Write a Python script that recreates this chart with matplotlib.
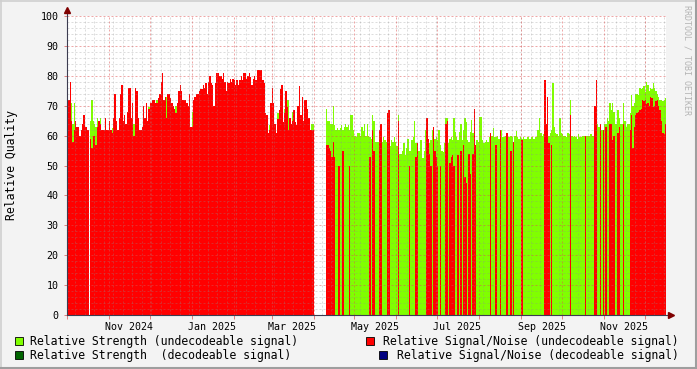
import numpy as np
import pandas as pd
import matplotlib
matplotlib.use("Agg")
import matplotlib.pyplot as plt
import matplotlib.dates as mdates
from matplotlib.lines import Line2D
from matplotlib.patches import Rectangle

# one value per day, starting at start_day; None = no data
start_day = "2024-10-01"
canvas_days = 441.8  # time span covered by the canvas

strength_undec = [
    # Oct 2024 .. Mar 2025
    62, 72, 78, 71, 64, 71, 65, 63, 63, 60,
    62, 64, 67, 63, 63, 62, None, 65, 72, 65,
    64, 63, 66, 65, 66, 62, 62, 62, 66, 62,
    62, 65, 62, 62.5, 66, 74, 65, 62, 66, 74,
    77, 65, 67, 64, 68, 76, 76, 66, 71, 64,
    76, 75, 66, 62, 62, 63, 70, 66, 71, 65,
    69.5, 71, 71, 72, 72, 71, 72, 72.5, 74, 78,
    81, 72, 73, 73, 74, 74, 72.5, 71, 70, 69,
    70, 71, 75, 77, 75, 72, 72, 72, 71, 70,
    74, 63, 68, 72, 73, 74, 74, 75, 75.5, 75.5,
    77, 76, 77.5, 74, 78, 80, 77.5, 77, 70, 77.5,
    81, 81, 80, 80, 79, 81, 78, 75, 78, 77.5,
    79, 78, 79, 78.5, 77, 78.5, 77, 78.5, 80, 78.5,
    81, 81, 79, 80, 81, 79.5, 77, 79, 80, 78.5,
    82, 82, 82, 82, 78.5, 77.5, 67.5, 67, 61, 63.5,
    71, 76, 71, 64, 61, 67.5, 68.5, 75.5, 77, 64.5,
    69, 75, 72, 72, 66, 64, 68, 68.5, 64.5, 63.5,
    70, 76.5, 67, 73, 65, 72, 72, 69, 66, 62,
    64, 64,
    # outage, early Apr 2025
    None, None, None, None, None, None, None, None, None,
    # Apr 2025 .. Dec 2025
    69, 65, 65, 64, 64, 70, 63.5, 62, 62.5, 62,
    62.5, 63.5, 62, 63, 64, 63, 63.5, 62, 67, 67,
    62, 60, 59.5, 61, 61, 60, 63, 61.5, 64, 60,
    64, 60, 59.5, 59, 67, 65, 58, 58, 58, 58.5,
    64, 58, 59.5, 58.5, 58, 67.5, 68.5, 56.5, 58.5, 58,
    59.5, 58, 56.5, 67, 54, 54, 55, 57.5, 53.5, 56,
    59, 55, 55, 58.5, 59.5, 65, 57.5, 57.5, 55, 58.5,
    58.5, 52.5, 55, 62, 62, 59, 57.5, 58.5, 62, 63,
    59, 59.5, 58.5, 62, 57, 55, 54.5, 57.5, 65.8, 65.8,
    57.5, 59, 59.5, 58.5, 65.8, 61.3, 59.5, 58.5, 61.3, 64,
    58.5, 62, 65.8, 64.7, 58.5, 58, 61.3, 65.2, 60.8, 65,
    55.8, 58.5, 58, 66.3, 66.3, 58.5, 57.5, 58, 58.5, 58,
    59.5, 61, 60, 62.5, 59.5, 59.5, 60, 59, 62, 62,
    59.5, 59.5, 60, 61, 59.5, 59.5, 60, 59.5, 58, 60,
    61.5, 59.5, 59, 59.5, 59, 59.5, 59, 59, 59.5, 59.5,
    59, 59.5, 59.5, 59, 59.5, 59.5, 62, 66, 61, 60,
    60.5, 60.5, 61, 64, 60, 61, 62, 77.5, 63, 61,
    60.5, 60, 66, 61, 60.5, 60, 60, 59.5, 61, 60.5,
    72, 60, 59.5, 60, 59.5, 59, 60.5, 59.5, 59.5, 60,
    60, 60, 60, 60, 60, 60.5, 60, 60, 70, 78.5,
    64, 63, 64, 62, 62, 64, 64, 66, 65, 71,
    68.5, 71, 68, 64, 64, 68.5, 66, 64, 64, 71,
    65, 63, 64, 64, 67.5, 73.5, 70, 71, 74, 74,
    73.5, 76, 75.5, 76, 76.5, 74.5, 78, 77, 75, 76,
    75.5, 77.5, 76, 75, 74, 73, 72, 72, 71.5, 72, 72.5,
]

snr_undec = [
    # Oct 2024 .. Mar 2025
    62, 72, 78, 65, 58, 62, 65, 63, 63, 60,
    62, 64, 67, 63, 63, 62, None, 59, 56, 60,
    60, 57, 63, 65, 64, 62, 62, 62, 66, 62,
    62, 65, 62, 61, 66, 74, 65, 62, 66, 74,
    77, 65, 67, 64, 68, 76, 76, 66, 71, 60,
    76, 75, 66, 62, 62, 63, 70, 66, 71, 65,
    69, 71, 71, 72, 72, 71, 71, 72.5, 74, 78,
    81, 72, 73, 66, 74, 74, 72.5, 71, 70, 69,
    67.5, 71, 75, 77, 75, 72, 72, 72, 71, 70,
    74, 63, 63, 72, 73, 74, 74, 75, 75.5, 75.5,
    77, 76, 77.5, 74, 78, 80, 77.5, 77, 70, 77.5,
    81, 81, 80, 80, 79, 81, 78, 75, 78, 77.5,
    79, 78, 79, 78.5, 77, 78.5, 77, 78.5, 80, 78.5,
    81, 81, 79, 80, 81, 79.5, 77, 79, 80, 78.5,
    82, 82, 82, 82, 78.5, 77.5, 67.5, 67, 61, 62,
    71, 76, 71, 64, 61, 65.5, 68.5, 75.5, 77, 64.5,
    67.5, 75, 69.5, 62, 66, 64, 65, 68.5, 64.5, 63.5,
    70, 76.5, 67, 73, 65, 72, 72, 69, 66, 62,
    62, 62,
    # outage, early Apr 2025
    None, None, None, None, None, None, None, None, None,
    # Apr 2025 .. Dec 2025
    57, 57, 56, 55, 53, 58, 53, None, None, 50,
    None, None, 55, None, None, None, None, 50, None, None,
    None, None, None, None, None, None, None, None, None, None,
    None, None, 53, None, 62, 55, None, None, None, 62,
    64, None, None, None, None, 67.5, 68.5, None, None, None,
    None, None, None, 65, None, None, None, None, None, None,
    None, 50, None, None, None, None, 53, 57.5, None, None,
    None, None, None, None, 66, 59, 54, 50, None, 63,
    55, 53, 50, None, 50, None, None, None, 64, 65,
    None, 51, 53, 53.5, 50, None, None, 53.5, None, 55,
    None, 57, 46, 44, None, 54, 47, None, 54, 69,
    57, None, None, None, None, None, None, None, None, None,
    None, 61, None, None, None, 57, None, None, 62, None,
    None, None, None, 61, None, None, 55, None, 58, None,
    None, None, None, None, 58.5, None, None, None, None, None,
    None, None, None, None, None, None, None, None, None, None,
    None, 78.5, 64, 73, 57.5, None, 57, None, None, None,
    None, None, None, None, None, None, None, None, None, None,
    67, None, None, None, None, None, None, None, None, None,
    None, 60, None, None, None, None, None, None, 70, 78.5,
    None, None, 64, None, 62, None, 63, None, None, 64,
    64, 58.5, 60, None, None, 61, 63, None, None, 64,
    None, None, None, None, 62, 67, 56, 63, 67, 67.5,
    68, 68.5, 69, 72, 71.5, 72, 70.5, 71, 70, 73,
    72.5, 69.5, 70, 71.5, 72, 70, 68.5, 65, 61, 60.5, 64,
]

# no decodeable signal was seen in this period
strength_dec = []
snr_dec = []

legend_items = [
    ("Relative Strength (undecodeable signal)", "#80ff00"),
    ("Relative Strength  (decodeable signal)", "#006400"),
    ("Relative Signal/Noise (undecodeable signal)", "#ff0000"),
    ("Relative Signal/Noise (decodeable signal)", "#000080"),
]

W, H = 697, 369


def fx(px):
    return px / W


def fy(py):
    return 1 - py / H


def draw_series(ax, values, color, z):
    vals = np.nan_to_num(np.array(values, dtype=float), nan=0.0)
    if len(vals) == 0:
        return
    x0 = mdates.date2num(pd.Timestamp(start_day))
    edges = x0 + np.arange(len(vals) + 1)
    ax.stairs(vals, edges, fill=True, color=color, lw=0, zorder=z)


def main():
    plt.rcParams["font.family"] = ["DejaVu Sans Mono"]

    fig = plt.figure(figsize=(W / 100, H / 100), dpi=100, facecolor="#f3f3f3")
    ax = fig.add_axes([fx(67), 1 - 315 / H, 599 / W, 299 / H])
    ax.set_facecolor("white")

    x0 = mdates.date2num(pd.Timestamp(start_day))
    ax.set_xlim(x0, x0 + canvas_days)
    ax.set_ylim(0, 100)
    for s in ax.spines.values():
        s.set_visible(False)

    draw_series(ax, strength_undec, "#80ff00", 1)
    draw_series(ax, strength_dec, "#006400", 1.5)
    draw_series(ax, snr_undec, "#ff0000", 2)
    draw_series(ax, snr_dec, "#000080", 2.5)

    # rrdtool style dotted grid, drawn over the areas
    minor = dict(color="#8f8f8f", alpha=0.3, lw=0.72, ls=(0, (2, 2)), zorder=3)
    major = dict(color="#de5050", alpha=0.5, lw=0.72, ls=(0, (2, 2)), zorder=3)
    for y in range(2, 100, 2):
        if y % 10:
            ax.axhline(y, **minor)
    for y in range(10, 101, 10):
        ax.axhline(y, **major)
    for w in pd.date_range(start_day, periods=70, freq="W-MON"):
        ax.axvline(mdates.date2num(w), **minor)
    for m in pd.date_range(start_day, "2025-12-01", freq="MS"):
        ax.axvline(mdates.date2num(m), **major)

    ax.set_yticks(range(0, 101, 10))
    ax.tick_params(axis="y", length=2, width=0.7, color="#e08080",
                   pad=4, labelsize=7.2)
    ax.xaxis.set_major_locator(
        mdates.MonthLocator(bymonth=[1, 3, 5, 7, 9, 11], bymonthday=16))
    ax.xaxis.set_major_formatter(mdates.DateFormatter("%b %Y"))
    ax.xaxis.set_minor_locator(mdates.MonthLocator())
    ax.tick_params(axis="x", which="major", length=0, pad=5, labelsize=7.2)
    ax.tick_params(axis="x", which="minor", length=3, width=0.7,
                   color="#e08080")

    # axes with arrows
    axis_col = "#3c3c50"
    arrow_col = "#7f0000"
    ax.plot([0, 0], [0, 1.02], transform=ax.transAxes, color=axis_col,
            lw=0.8, clip_on=False, zorder=4)
    ax.plot([0, 1.007], [0, 0], transform=ax.transAxes, color=axis_col,
            lw=0.8, clip_on=False, zorder=4)
    ax.plot([0], [1.019], marker="^", ms=4, color=arrow_col, mec=arrow_col,
            transform=ax.transAxes, clip_on=False, zorder=5)
    ax.plot([1.0085], [0], marker=">", ms=4, color=arrow_col, mec=arrow_col,
            transform=ax.transAxes, clip_on=False, zorder=5)

    fig.text(fx(11.5), fy(165), "Relative Quality", rotation=90,
             ha="center", va="center", fontsize=8.3)
    fig.text(fx(687), fy(5), "RRDTOOL / TOBI OETIKER", rotation=270,
             ha="center", va="top", fontsize=6, color="#b4b4b4")

    # legend, rrdtool layout: left column and right-justified column
    rows = [
        (15, 30, 341, "left", legend_items[0]),
        (15, 30, 355, "left", legend_items[1]),
        (366, 679, 341, "right", legend_items[2]),
        (379, 679, 355, "right", legend_items[3]),
    ]
    for sq_x, tx, ty, ha, (label, color) in rows:
        fig.add_artist(Rectangle((fx(sq_x), fy(ty + 4)), 8 / W, 8 / H,
                                 transform=fig.transFigure, facecolor=color,
                                 edgecolor="black", lw=0.6))
        fig.text(fx(tx), fy(ty), label, ha=ha, va="center", fontsize=8.3)

    # 3d frame around the image
    fig.add_artist(Line2D([0, 1], [1 - 0.5 / H] * 2, color="#cfcfcf", lw=1.2,
                          transform=fig.transFigure))
    fig.add_artist(Line2D([0.5 / W] * 2, [0, 1], color="#cfcfcf", lw=1.2,
                          transform=fig.transFigure))
    fig.add_artist(Line2D([0, 1], [1 / H] * 2, color="#9e9e9e", lw=1.5,
                          transform=fig.transFigure))
    fig.add_artist(Line2D([1 - 1 / W] * 2, [0, 1], color="#9e9e9e", lw=1.5,
                          transform=fig.transFigure))

    fig.savefig("out.png", dpi=100, facecolor=fig.get_facecolor())
    plt.close(fig)


if __name__ == "__main__":
    main()
